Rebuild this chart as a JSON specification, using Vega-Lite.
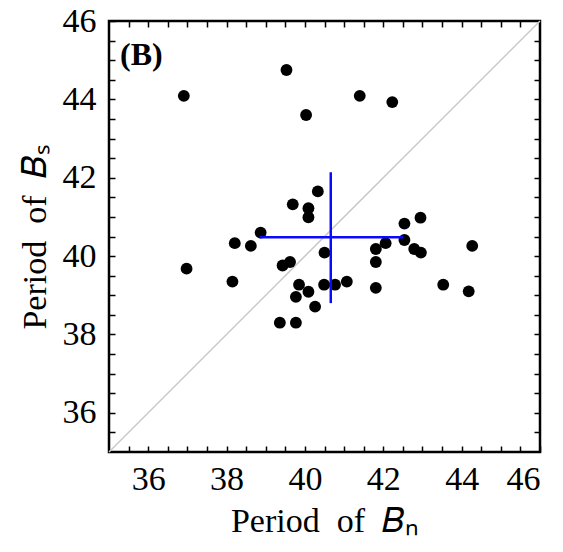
{
  "$schema": "https://vega.github.io/schema/vega-lite/v6.json",
  "width": 431,
  "height": 431,
  "autosize": "none",
  "padding": {"left": 109, "top": 21, "right": 23, "bottom": 100},
  "background": "white",
  "config": {
    "view": {"stroke": "black", "strokeWidth": 2.5},
    "axis": {"grid": false, "domain": false, "tickColor": "black", "tickSize": 6, "tickWidth": 1.5, "labelColor": "black", "titleColor": "black", "labelFont": "Liberation Serif", "titleFont": "Liberation Serif", "labelFontSize": 34, "titleFontSize": 34, "titleFontWeight": "normal"}
  },
  "datasets": {
    "pts": [
      {"bn": 39.53, "bs": 44.75}, {"bn": 36.91, "bs": 44.09}, {"bn": 41.40, "bs": 44.09}, {"bn": 42.23, "bs": 43.93},
      {"bn": 40.03, "bs": 43.60}, {"bn": 40.33, "bs": 41.65}, {"bn": 39.69, "bs": 41.32}, {"bn": 40.09, "bs": 41.22},
      {"bn": 40.09, "bs": 40.99}, {"bn": 38.87, "bs": 40.60}, {"bn": 38.21, "bs": 40.33}, {"bn": 38.62, "bs": 40.26},
      {"bn": 40.50, "bs": 40.09}, {"bn": 36.98, "bs": 39.68}, {"bn": 39.43, "bs": 39.76}, {"bn": 39.62, "bs": 39.85},
      {"bn": 38.15, "bs": 39.35}, {"bn": 39.85, "bs": 39.27}, {"bn": 40.09, "bs": 39.09}, {"bn": 39.77, "bs": 38.96},
      {"bn": 40.26, "bs": 38.71}, {"bn": 39.36, "bs": 38.30}, {"bn": 39.77, "bs": 38.30}, {"bn": 40.49, "bs": 39.27},
      {"bn": 40.77, "bs": 39.27}, {"bn": 41.07, "bs": 39.35}, {"bn": 41.81, "bs": 39.19}, {"bn": 41.81, "bs": 39.85},
      {"bn": 41.81, "bs": 40.18}, {"bn": 42.06, "bs": 40.33}, {"bn": 42.54, "bs": 40.41}, {"bn": 42.54, "bs": 40.83},
      {"bn": 42.95, "bs": 40.98}, {"bn": 42.79, "bs": 40.18}, {"bn": 42.96, "bs": 40.09}, {"bn": 43.53, "bs": 39.27},
      {"bn": 44.27, "bs": 40.26}, {"bn": 44.18, "bs": 39.10}
    ]
  },
  "layer": [
    {
      "data": {"values": [{"a": 35, "b": 35}, {"a": 46, "b": 46}]},
      "mark": {"type": "line", "color": "#c8c8c8", "strokeWidth": 1.5},
      "encoding": {
        "x": {"field": "a", "type": "quantitative", "scale": {"domain": [35, 46], "nice": false, "zero": false},
              "axis": {"orient": "bottom", "values": [36, 38, 40, 42, 44, 46], "offset": -6, "labelPadding": 10, "title": "Period\u00a0 of\u00a0 𝐵ₙ", "titlePadding": 8}},
        "y": {"field": "b", "type": "quantitative", "scale": {"domain": [35, 46], "nice": false, "zero": false},
              "axis": {"orient": "left", "values": [36, 38, 40, 42, 44, 46], "offset": -6, "labelPadding": 13, "title": "Period\u00a0 of\u00a0 𝐵ₛ", "titlePadding": 10}}
      }
    },
    {
      "data": {"name": "pts"},
      "mark": {"type": "point", "filled": true, "color": "black", "opacity": 1, "size": 140},
      "encoding": {
        "x": {"field": "bn", "type": "quantitative", "scale": {"domain": [35, 46], "nice": false, "zero": false},
              "axis": {"orient": "top", "values": [36, 38, 40, 42, 44], "offset": -6, "labels": false, "title": null}},
        "y": {"field": "bs", "type": "quantitative", "scale": {"domain": [35, 46], "nice": false, "zero": false},
              "axis": {"orient": "right", "values": [36, 38, 40, 42, 44], "offset": -6, "labels": false, "title": null}}
      }
    },
    {
      "data": {"values": [{"cx": 40.66, "lo": 38.8, "hi": 42.14}]},
      "mark": {"type": "rule", "color": "#0a0aff", "strokeWidth": 2.5},
      "encoding": {
        "x": {"field": "cx", "type": "quantitative", "scale": {"domain": [35, 46], "nice": false, "zero": false},
              "axis": {"orient": "bottom", "values": [35.5, 36.5, 37, 37.5, 38.5, 39, 39.5, 40.5, 41, 41.5, 42.5, 43, 43.5, 44.5, 45, 45.5], "offset": -6, "labels": false, "title": null}},
        "y": {"field": "lo", "type": "quantitative", "scale": {"domain": [35, 46], "nice": false, "zero": false},
              "axis": {"orient": "left", "values": [35.5, 36.5, 37, 37.5, 38.5, 39, 39.5, 40.5, 41, 41.5, 42.5, 43, 43.5, 44.5, 45, 45.5], "offset": -6, "labels": false, "title": null}},
        "y2": {"field": "hi"}
      }
    },
    {
      "data": {"values": [{"cy": 40.48, "lo": 38.84, "hi": 42.51}]},
      "mark": {"type": "rule", "color": "#0a0aff", "strokeWidth": 2.5},
      "encoding": {
        "y": {"field": "cy", "type": "quantitative", "scale": {"domain": [35, 46], "nice": false, "zero": false},
              "axis": {"orient": "right", "values": [35.5, 36.5, 37, 37.5, 38.5, 39, 39.5, 40.5, 41, 41.5, 42.5, 43, 43.5, 44.5, 45, 45.5], "offset": -6, "labels": false, "title": null}},
        "x": {"field": "lo", "type": "quantitative", "scale": {"domain": [35, 46], "nice": false, "zero": false},
              "axis": {"orient": "top", "values": [35.5, 36.5, 37, 37.5, 38.5, 39, 39.5, 40.5, 41, 41.5, 42.5, 43, 43.5, 44.5, 45, 45.5], "offset": -6, "labels": false, "title": null}},
        "x2": {"field": "hi"}
      }
    },
    {
      "data": {"values": [{"tx": 35.28, "ty": 45.13, "label": "(B)"}]},
      "mark": {"type": "text", "align": "left", "baseline": "middle", "font": "Liberation Serif", "fontWeight": "bold", "fontSize": 32, "color": "black"},
      "encoding": {
        "x": {"field": "tx", "type": "quantitative", "scale": {"domain": [35, 46], "nice": false, "zero": false}, "axis": null},
        "y": {"field": "ty", "type": "quantitative", "scale": {"domain": [35, 46], "nice": false, "zero": false}, "axis": null},
        "text": {"field": "label"}
      }
    }
  ],
  "resolve": {"axis": {"x": "independent", "y": "independent"}}
}
